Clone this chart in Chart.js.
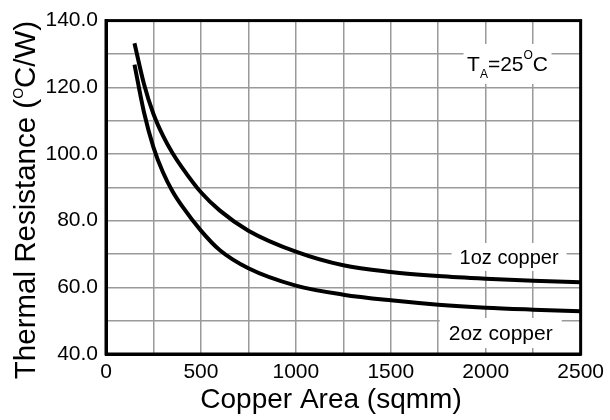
<!DOCTYPE html>
<html>
<head>
<meta charset="utf-8">
<script src="https://cdn.jsdelivr.net/npm/chart.js@4.4.0/dist/chart.umd.min.js"></script>
<style>
  html, body { margin: 0; padding: 0; background: #fff; }
</style>
</head>
<body>
<canvas id="chart" width="610" height="420"></canvas>
<script>
// Thermal resistance vs copper area
const areas = [150, 200, 250, 300, 350, 400, 500, 600, 750, 1000, 1250, 1500, 1750, 2000, 2250, 2500];
const theta1oz = [133.2, 121, 112, 105.5, 100.3, 96, 88.5, 83, 77, 70.7, 66.6, 64.6, 63.4, 62.6, 62.0, 61.5];
const theta2oz = [126.8, 112.5, 102, 94.5, 88.8, 84.4, 77, 71.1, 65.7, 60.5, 57.8, 56.1, 54.8, 53.9, 53.3, 52.8];

// Tick labels
const xTickLabels = [0, 500, 1000, 1500, 2000, 2500];
const yTickLabels = [40, 60, 80, 100, 120, 140];

const FONT = '"Liberation Sans", Arial, Helvetica, sans-serif';

// Boxed notes inside the plot (anchored in data units)
const notes = [
    { x: 2115, y: 127, w: 88, h: 40, parts: [
        { t: 'T', size: 21 },
        { t: 'A', size: 12, dy: 7 },
        { t: '=25', size: 21 },
        { t: 'O', size: 12, dy: -12 },
        { t: 'C', size: 21 }
    ] },
    { x: 2123, y: 69.1, w: 115, h: 28, parts: [{ t: '1oz copper', size: 20 }] },
    { x: 2079, y: 46.3, w: 122, h: 30, parts: [{ t: '2oz copper', size: 21 }] }
];

function toPoints(xs, ys) {
    return xs.map((x, i) => ({ x: x, y: ys[i] }));
}

// Draw a run of text pieces with sub/superscripts, centered on cx
function drawParts(ctx, parts, cx, baseY) {
    let total = 0;
    parts.forEach(p => {
        ctx.font = p.size + 'px ' + FONT;
        p.w = ctx.measureText(p.t).width;
        total += p.w;
    });
    let x = cx - total / 2;
    ctx.textAlign = 'left';
    ctx.textBaseline = 'alphabetic';
    parts.forEach(p => {
        ctx.font = p.size + 'px ' + FONT;
        ctx.fillText(p.t, x, baseY + (p.dy || 0));
        x += p.w;
    });
}

const decorations = {
    id: 'decorations',
    beforeDatasetsDraw(chart) {
        const ctx = chart.ctx;
        const xs = chart.scales.x, ys = chart.scales.y;
        ctx.save();
        notes.forEach(n => {
            const cx = xs.getPixelForValue(n.x);
            const cy = ys.getPixelForValue(n.y);
            ctx.fillStyle = '#fff';
            ctx.fillRect(cx - n.w / 2, cy - n.h / 2, n.w, n.h);
            ctx.fillStyle = '#000';
            drawParts(ctx, n.parts, cx, cy + 7);
        });
        ctx.restore();
    },
    afterDatasetsDraw(chart) {
        const ctx = chart.ctx;
        const a = chart.chartArea;
        ctx.save();
        ctx.strokeStyle = '#000';
        ctx.lineWidth = 3;
        ctx.strokeRect(a.left, a.top, a.right - a.left, a.bottom - a.top);
        ctx.restore();
    },
    afterDraw(chart) {
        const ctx = chart.ctx;
        ctx.save();
        ctx.fillStyle = '#000';
        // x axis title
        drawParts(ctx, [{ t: 'Copper Area (sqmm)', size: 28 }], 331, 408);
        // y axis title
        ctx.translate(35, 200);
        ctx.rotate(-Math.PI / 2);
        drawParts(ctx, [
            { t: 'Thermal Resistance (', size: 29.5 },
            { t: 'O', size: 14, dy: -12 },
            { t: 'C/W)', size: 29.5 }
        ], 0, 0);
        ctx.restore();
    }
};

new Chart(document.getElementById('chart'), {
    type: 'line',
    data: {
        datasets: [
            {
                label: '1oz copper',
                data: toPoints(areas, theta1oz),
                borderColor: '#000',
                borderWidth: 4,
                pointRadius: 0,
                cubicInterpolationMode: 'monotone',
                fill: false
            },
            {
                label: '2oz copper',
                data: toPoints(areas, theta2oz),
                borderColor: '#000',
                borderWidth: 4,
                pointRadius: 0,
                cubicInterpolationMode: 'monotone',
                fill: false
            }
        ]
    },
    options: {
        responsive: false,
        animation: false,
        devicePixelRatio: 1,
        layout: { padding: { top: 16, right: 26, left: 0, bottom: 0 } },
        plugins: {
            legend: { display: false },
            tooltip: { enabled: false }
        },
        scales: {
            x: {
                type: 'linear',
                min: 0,
                max: 2500,
                afterFit: s => { s.height = 66; },
                grid: { color: '#9a9a9a', lineWidth: 1.5, drawTicks: false },
                border: { color: '#000', width: 3 },
                ticks: {
                    stepSize: 250,
                    autoSkip: false,
                    maxRotation: 0,
                    padding: 6,
                    color: '#000',
                    font: { family: FONT, size: 21 },
                    callback: v => xTickLabels.includes(v) ? String(v) : ''
                }
            },
            y: {
                min: 40,
                max: 140,
                afterFit: s => { s.width = 106; },
                grid: { color: '#9a9a9a', lineWidth: 1.5, drawTicks: false },
                border: { color: '#000', width: 3 },
                ticks: {
                    stepSize: 10,
                    autoSkip: false,
                    padding: 8,
                    color: '#000',
                    font: { family: FONT, size: 21 },
                    callback: v => yTickLabels.includes(v) ? v.toFixed(1) : ''
                }
            }
        }
    },
    plugins: [decorations]
});
</script>
</body>
</html>
